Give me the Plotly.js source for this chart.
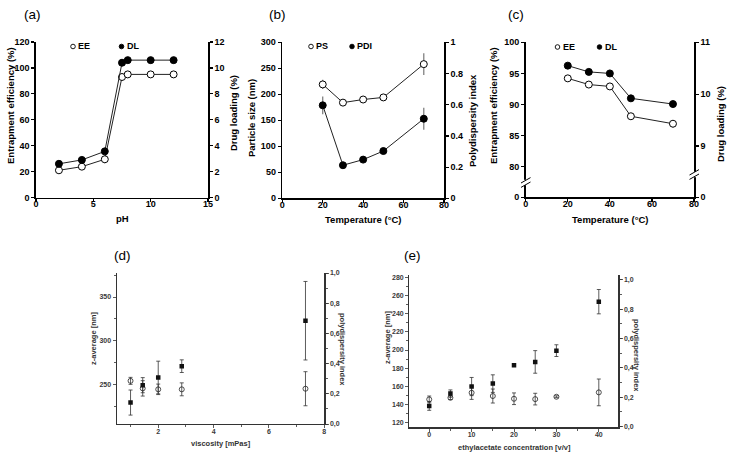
<!DOCTYPE html>
<html>
<head>
<meta charset="utf-8">
<script src="https://cdn.plot.ly/plotly-3.0.1.min.js"></script>
<style>html,body{margin:0;padding:0;background:#fff;}#chart{width:731px;height:455px;}</style>
</head>
<body>
<div id="chart"></div>
<script>
// ---------- data ----------
// (a) pH
const pH = [2, 4, 6, 7.5, 8, 10, 12];
const eeA = [21, 23.8, 29.5, 93, 95, 95, 95];
const eeAErr = [0, 0, 3, 0, 0, 0, 0];
const dlA = [2.6, 2.9, 3.56, 10.4, 10.6, 10.6, 10.6];
// (b) temperature vs PS / PDI
const tempB = [20, 30, 40, 50, 70];
const psB = [219, 184, 190, 194, 258];
const psBErr = [9, 0, 0, 0, 21];
const pdiB = [0.596, 0.212, 0.248, 0.303, 0.51];
const pdiBErr = [0.057, 0, 0, 0, 0.07];
// (c) temperature vs EE / DL
const tempC = [20, 30, 40, 50, 70];
const eeC = [94.2, 93.2, 92.9, 88.1, 86.9];
const eeCErr = [0, 0, 0, 0.5, 0.6];
const dlC = [10.55, 10.43, 10.40, 9.92, 9.81];
const dlCErr = [0, 0, 0, 0.05, 0.06];
// (d) viscosity
const viscD = [1.0, 1.44, 2.0, 2.85, 7.32];
const zD = [254, 245.4, 244.3, 244.3, 245];
const zDErr = [4, 8.8, 6, 7.4, 19.5];
const pdiD = [0.142, 0.257, 0.308, 0.383, 0.684];
const pdiDErr = [0.083, 0.05, 0.108, 0.042, 0.26];
// (e) ethylacetate concentration
const concE = [0, 5, 10, 15, 20, 25, 30, 40];
const zE = [145.7, 147.5, 153, 149.4, 146.4, 146, 148.6, 153.4];
const zEErr = [3.7, 2, 7.3, 7.7, 6.4, 6.4, 1, 14.7];
const pdiE = [0.141, 0.225, 0.273, 0.293, 0.418, 0.441, 0.518, 0.852];
const pdiEErr = [0.03, 0.025, 0.062, 0.06, 0.008, 0.077, 0.04, 0.083];

// tick labels
const ticksCLeftVals = [75.06, 80, 85, 90, 95, 100];
const ticksCLeftText = ['0', '80', '85', '90', '95', '100'];
const ticksCRightVals = [8.013, 9, 10, 11];
const ticksCRightText = ['0', '9', '10', '11'];
const pdiTickVals = [0, 0.2, 0.4, 0.6, 0.8, 1.0];
const pdiTickText = ['0,0', '0,2', '0,4', '0,6', '0,8', '1,0'];

// ---------- helpers ----------
const W = 731, H = 455;
const px = x => x / W;
const py = y => 1 - y / H;
const FONT = 'Liberation Sans, Arial, sans-serif';

const openM = {symbol: 'circle', size: 7, color: '#fff', line: {color: '#000', width: 1}};
const fillM = {symbol: 'circle', size: 7, color: '#000', line: {color: '#000', width: 1}};
const lineS = {color: '#222', width: 1};
const errTop = arr => ({type: 'data', array: arr, visible: true, color: '#777', thickness: 1.2, width: 0});
const errBot = arr => ({type: 'data', array: arr, visible: true, color: '#333', thickness: 0.8, width: 2});

const traces = [
  // (a)
  {x: pH, y: eeA, xaxis: 'x', yaxis: 'y', mode: 'lines+markers', marker: openM, line: lineS, error_y: errTop(eeAErr)},
  {x: pH, y: dlA, xaxis: 'x', yaxis: 'y2', mode: 'lines+markers', marker: fillM, line: lineS},
  // (b)
  {x: tempB, y: psB, xaxis: 'x2', yaxis: 'y3', mode: 'lines+markers', marker: openM, line: lineS, error_y: errTop(psBErr)},
  {x: tempB, y: pdiB, xaxis: 'x2', yaxis: 'y4', mode: 'lines+markers', marker: fillM, line: lineS, error_y: errTop(pdiBErr)},
  // (c)
  {x: tempC, y: eeC, xaxis: 'x3', yaxis: 'y5', mode: 'lines+markers', marker: openM, line: lineS, error_y: errTop(eeCErr)},
  {x: tempC, y: dlC, xaxis: 'x3', yaxis: 'y6', mode: 'lines+markers', marker: fillM, line: lineS, error_y: errTop(dlCErr)},
  // (d)
  {x: viscD, y: zD, xaxis: 'x4', yaxis: 'y7', mode: 'markers', marker: {symbol: 'circle-open', size: 5, color: '#222', line: {width: 0.8}}, error_y: errBot(zDErr)},
  {x: viscD, y: pdiD, xaxis: 'x4', yaxis: 'y8', mode: 'markers', marker: {symbol: 'square', size: 4.5, color: '#111'}, error_y: errBot(pdiDErr)},
  // (e)
  {x: concE, y: zE, xaxis: 'x5', yaxis: 'y9', mode: 'markers', marker: {symbol: 'circle-open', size: 5, color: '#222', line: {width: 0.8}}, error_y: errBot(zEErr)},
  {x: concE, y: pdiE, xaxis: 'x5', yaxis: 'y10', mode: 'markers', marker: {symbol: 'square', size: 4.5, color: '#111'}, error_y: errBot(pdiEErr)}
];

const topTick = () => ({family: FONT, size: 9, color: '#000', weight: 'bold'});
const botTick = () => ({family: FONT, size: 7, color: '#3a3a3a', weight: 'bold'});
const topAx = () => ({showgrid: false, zeroline: false, showline: true, linecolor: '#000', linewidth: 1.6,
  ticks: 'outside', ticklen: 3, tickwidth: 1.2, tickcolor: '#000', tickfont: topTick(), fixedrange: true});
const botAx = () => ({showgrid: false, zeroline: false, showline: true, linecolor: '#333', linewidth: 1.2,
  ticks: 'outside', ticklen: 3, tickwidth: 0.8, tickcolor: '#333', tickfont: botTick(), fixedrange: true});
const mk = (base, extra) => Object.assign(base(), extra);

const layout = {
  width: W, height: H, margin: {l: 0, r: 0, t: 0, b: 0}, showlegend: false,
  paper_bgcolor: '#fff', plot_bgcolor: 'rgba(0,0,0,0)',
  // (a)
  xaxis: mk(topAx, {domain: [px(36), px(208)], range: [0, 15], tickvals: [0, 5, 10, 15], anchor: 'y', ticklabelstandoff: -6}),
  yaxis: mk(topAx, {domain: [py(197.5), py(42)], range: [0, 120], dtick: 20, anchor: 'x'}),
  yaxis2: mk(topAx, {overlaying: 'y', side: 'right', anchor: 'x', range: [0, 12], dtick: 2}),
  // (b)
  xaxis2: mk(topAx, {domain: [px(282.3), px(444)], range: [0, 80], dtick: 20, anchor: 'y3', ticklabelstandoff: -6}),
  yaxis3: mk(topAx, {domain: [py(198.3), py(42.3)], range: [0, 300], dtick: 50, anchor: 'x2'}),
  yaxis4: mk(topAx, {overlaying: 'y3', side: 'right', anchor: 'x2', range: [0, 1], dtick: 0.2}),
  // (c)
  xaxis3: mk(topAx, {domain: [px(525.7), px(694)], range: [0, 80], dtick: 20, anchor: 'y5', ticklabelstandoff: -6}),
  yaxis5: mk(topAx, {domain: [py(197.3), py(42.3)], range: [75.06, 100], tickmode: 'array', tickvals: ticksCLeftVals, ticktext: ticksCLeftText, anchor: 'x3'}),
  yaxis6: mk(topAx, {overlaying: 'y5', side: 'right', anchor: 'x3', range: [8.013, 11], tickmode: 'array', tickvals: ticksCRightVals, ticktext: ticksCRightText}),
  // (d)
  xaxis4: mk(botAx, {domain: [px(116.7), px(324.3)], range: [0.5, 8], dtick: 2, anchor: 'y7', ticklabelstandoff: -3,
    minor: {tickmode: 'linear', dtick: 1, ticks: 'outside', ticklen: 2, tickcolor: '#333'}}),
  yaxis7: mk(botAx, {domain: [py(424), py(273)], range: [204.6, 377.5], dtick: 50, anchor: 'x4',
    minor: {tickmode: 'linear', dtick: 25, tick0: 0, ticks: 'outside', ticklen: 2, tickcolor: '#333'}}),
  yaxis8: mk(botAx, {overlaying: 'y7', side: 'right', anchor: 'x4', range: [0, 1.0], tickmode: 'array', tickvals: pdiTickVals, ticktext: pdiTickText,
    minor: {tickmode: 'linear', dtick: 0.1, tick0: 0, ticks: 'outside', ticklen: 2, tickcolor: '#333'}}),
  // (e)
  xaxis5: mk(botAx, {domain: [px(409.3), px(618.3)], range: [-4.7, 44.6], dtick: 10, anchor: 'y9', ticklabelstandoff: -3,
    minor: {tickmode: 'linear', dtick: 5, tick0: 0, ticks: 'outside', ticklen: 2, tickcolor: '#333'}}),
  yaxis9: mk(botAx, {domain: [py(427.3), py(275)], range: [115, 282.5], dtick: 20, anchor: 'x5',
    minor: {tickmode: 'linear', dtick: 10, tick0: 0, ticks: 'outside', ticklen: 2, tickcolor: '#333'}}),
  yaxis10: mk(botAx, {overlaying: 'y9', side: 'right', anchor: 'x5', range: [-0.005, 1.034], tickmode: 'array', tickvals: pdiTickVals, ticktext: pdiTickText,
    minor: {tickmode: 'linear', dtick: 0.1, tick0: 0, ticks: 'outside', ticklen: 2, tickcolor: '#333'}}),
  annotations: [],
  shapes: []
};

function ann(text, x, y, opts) {
  layout.annotations.push(Object.assign({
    text: text, xref: 'paper', yref: 'paper', x: px(x), y: py(y), showarrow: false,
    xanchor: 'center', yanchor: 'middle',
    font: {family: FONT, size: 9.5, color: '#000', weight: 'bold'}
  }, opts || {}));
}
// panel labels
const labelFont = {family: FONT, size: 13.5, color: '#000'};
ann('(a)', 32, 14, {font: labelFont});
ann('(b)', 277, 14, {font: labelFont});
ann('(c)', 516, 14, {font: labelFont});
ann('(d)', 122, 255, {font: labelFont});
ann('(e)', 412, 255, {font: labelFont});
// axis titles top
ann('Entrapment efficiency (%)', 10, 106, {textangle: -90});
ann('Drug loading (%)', 233, 113, {textangle: -90});
ann('pH', 122, 218.5);
ann('Particle size (nm)', 252, 118, {textangle: -90});
ann('Polydispersity index', 473, 121, {textangle: -90});
ann('Temperature (°C)', 363, 219);
ann('Entrapment efficiency (%)', 493, 106, {textangle: -90});
ann('Drug loading (%)', 721, 124, {textangle: -90});
ann('Temperature (°C)', 610, 219);
// axis titles bottom
const bf = {family: FONT, size: 7.5, color: '#333', weight: 'bold'};
ann('z-average [nm]', 93, 339, {textangle: -90, font: bf});
ann('polydispersity index', 343, 349, {textangle: 90, font: bf});
ann('viscosity [mPas]', 221, 443.5, {font: bf});
ann('z-average [nm]', 387, 338, {textangle: -90, font: bf});
ann('polydispersity index', 637, 355, {textangle: 90, font: bf});
ann('ethylacetate concentration [v/v]', 514, 447, {font: bf});

// legends (marker + text)
function legend(x, y, filled, text) {
  layout.shapes.push({type: 'circle', xref: 'paper', yref: 'paper', xsizemode: 'pixel', ysizemode: 'pixel',
    xanchor: px(x), yanchor: py(y), x0: -2.3, x1: 2.3, y0: -2.3, y1: 2.3,
    fillcolor: filled ? '#000' : '#fff', line: {color: '#000', width: 0.9}});
  ann(text, x + 3, y, {xanchor: 'left', font: {family: FONT, size: 9, color: '#000', weight: 'bold'}});
}
legend(73, 46.5, false, 'EE');
legend(121.5, 46.5, true, 'DL');
legend(311, 46.5, false, 'PS');
legend(352, 46.5, true, 'PDI');
legend(557.5, 47, false, 'EE');
legend(599.5, 47, true, 'DL');

// axis breaks in (c)
function seg(x0, y0, x1, y1, color, width) {
  layout.shapes.push({type: 'line', xref: 'paper', yref: 'paper', x0: px(x0), y0: py(y0), x1: px(x1), y1: py(y1),
    line: {color: color, width: width}, layer: 'above'});
}
seg(525.7, 179.8, 525.7, 185.2, '#fff', 4);
seg(521, 183, 530.5, 177.6, '#000', 1);
seg(521, 187.4, 530.5, 182, '#000', 1);
seg(694, 171.8, 694, 177.2, '#fff', 4);
seg(689.5, 175, 699, 169.6, '#000', 1);
seg(689.5, 179.4, 699, 174, '#000', 1);

Plotly.newPlot('chart', traces, layout, {staticPlot: true, displayModeBar: false});
</script>
</body>
</html>
